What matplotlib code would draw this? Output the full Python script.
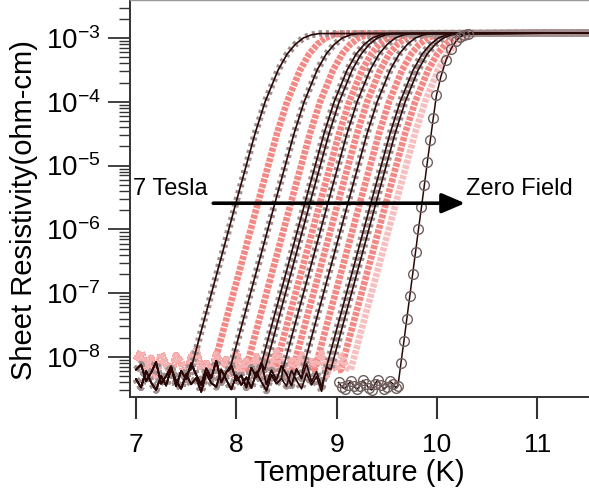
import numpy as np
import matplotlib
matplotlib.use("Agg")
import matplotlib.pyplot as plt
from matplotlib.ticker import LogLocator, NullFormatter, NullLocator

plt.rcParams['font.family'] = ['Liberation Sans', 'DejaVu Sans']

levels = [-8.2, -7.5, -6.5, -5.5, -4.5, -4.0, -3.5, -3.25, -3.1, -3.0, -2.95, -2.93]

# temperature (K) of every field curve at those levels, 7 Tesla first
curve_t = [
    [7.546, 7.666, 7.839, 8.011, 8.186, 8.287, 8.417, 8.507, 8.587, 8.667, 8.747, 8.827],
    [7.765, 7.885, 8.058, 8.230, 8.405, 8.506, 8.636, 8.726, 8.806, 8.886, 8.966, 9.046],
    [7.935, 8.055, 8.228, 8.400, 8.575, 8.676, 8.806, 8.896, 8.976, 9.056, 9.136, 9.216],
    [8.094, 8.214, 8.387, 8.559, 8.734, 8.835, 8.965, 9.055, 9.135, 9.215, 9.295, 9.375],
    [8.234, 8.354, 8.527, 8.699, 8.874, 8.975, 9.105, 9.195, 9.275, 9.355, 9.435, 9.515],
    [8.284, 8.404, 8.577, 8.749, 8.924, 9.025, 9.155, 9.245, 9.325, 9.405, 9.485, 9.565],
    [8.384, 8.504, 8.677, 8.849, 9.024, 9.125, 9.255, 9.345, 9.425, 9.505, 9.585, 9.665],
    [8.463, 8.583, 8.756, 8.928, 9.103, 9.204, 9.334, 9.424, 9.504, 9.584, 9.664, 9.744],
    [8.563, 8.683, 8.856, 9.028, 9.203, 9.304, 9.434, 9.524, 9.604, 9.684, 9.764, 9.844],
    [8.663, 8.783, 8.956, 9.128, 9.303, 9.404, 9.534, 9.624, 9.704, 9.784, 9.864, 9.944],
    [8.782, 8.902, 9.075, 9.247, 9.422, 9.523, 9.653, 9.743, 9.823, 9.903, 9.983, 10.063],
    [8.892, 9.012, 9.185, 9.357, 9.532, 9.633, 9.763, 9.853, 9.933, 10.013, 10.093, 10.173],
    [8.942, 9.062, 9.235, 9.407, 9.582, 9.683, 9.813, 9.903, 9.983, 10.063, 10.143, 10.223],
    [9.042, 9.162, 9.335, 9.507, 9.682, 9.783, 9.913, 10.003, 10.083, 10.163, 10.243, 10.323],
    [9.141, 9.261, 9.434, 9.606, 9.781, 9.882, 10.012, 10.102, 10.182, 10.262, 10.342, 10.422],
]
curve_kind = ['black', 'pink', 'black', 'pink', 'black', 'black', 'pink', 'black',
              'pink', 'black', 'pink', 'black', 'black', 'pink', 'light']

# zero field curve (open circles)
zero_levels = [-8.45, -8.1, -7.75, -7.4, -7.05, -6.7, -6.35, -6.0, -5.65, -5.3, -4.95,
               -4.6, -4.25, -3.9, -3.6, -3.35, -3.17, -3.05, -2.98, -2.95, -2.93]
zero_t = [9.612, 9.641, 9.671, 9.700, 9.729, 9.758, 9.787, 9.816, 9.846, 9.875, 9.904,
          9.934, 9.964, 9.995, 10.04, 10.09, 10.14, 10.19, 10.23, 10.27, 10.31]
zero_floor_t = [9.02, 9.05, 9.08, 9.11, 9.14, 9.17, 9.20, 9.23, 9.26, 9.29,
                9.32, 9.35, 9.38, 9.41, 9.44, 9.47, 9.50, 9.53, 9.56, 9.59]
zero_floor_log = [-8.40, -8.47, -8.50, -8.44, -8.38, -8.45, -8.51, -8.46, -8.37, -8.42,
                  -8.49, -8.52, -8.43, -8.36, -8.44, -8.50, -8.47, -8.38, -8.42, -8.48]

# normal state plateau
plateau_log = -2.92
t_end = 11.6

# noise floor below the transitions (log10 values)
floor_t = [7.00, 7.05, 7.10, 7.15, 7.20, 7.25, 7.30, 7.35, 7.40, 7.45,
           7.50, 7.55, 7.60, 7.65, 7.70, 7.75, 7.80, 7.85, 7.90, 7.95,
           8.00, 8.05, 8.10, 8.15, 8.20, 8.25, 8.30, 8.35, 8.40, 8.45,
           8.50, 8.55, 8.60, 8.65, 8.70, 8.75, 8.80, 8.85, 8.90, 8.95,
           9.00, 9.05, 9.10, 9.15, 9.20, 9.25, 9.30, 9.35, 9.40, 9.45,
           9.50, 9.55, 9.60]
noise_pink = [-8.05, -7.92, -8.18, -8.02, -8.30, -7.95, -8.12, -8.25, -7.98, -8.08,
              -8.35, -8.00, -7.90, -8.20, -8.10, -8.28, -7.96, -8.14, -8.04, -8.32,
              -7.93, -8.22, -8.06, -8.16, -7.99, -8.27, -8.03, -8.19, -7.91, -8.11,
              -8.34, -8.01, -8.15, -7.97, -8.24, -8.07, -8.13, -7.94, -8.29, -8.05,
              -8.21, -7.98, -8.17, -8.09, -8.31, -8.00, -8.12, -8.26, -7.95, -8.18,
              -8.08, -8.23, -8.02]
noise_dark = [-8.35, -8.48, -8.22, -8.40, -8.52, -8.30, -8.45, -8.18, -8.38, -8.50,
              -8.27, -8.43, -8.33, -8.55, -8.25, -8.41, -8.47, -8.20, -8.36, -8.51,
              -8.29, -8.44, -8.32, -8.49, -8.24, -8.39, -8.53, -8.28, -8.42, -8.34,
              -8.46, -8.21, -8.37, -8.50, -8.26, -8.44, -8.31, -8.54, -8.23, -8.40,
              -8.48, -8.30, -8.45, -8.19, -8.38, -8.52, -8.27, -8.43, -8.35, -8.49,
              -8.25, -8.41, -8.33]
noise_mid = [-8.20, -8.12, -8.38, -8.25, -8.08, -8.42, -8.30, -8.15, -8.46, -8.22,
             -8.35, -8.10, -8.28, -8.44, -8.18, -8.33, -8.06, -8.40, -8.24, -8.13,
             -8.37, -8.29, -8.48, -8.17, -8.32, -8.09, -8.43, -8.21, -8.36, -8.14,
             -8.27, -8.45, -8.19, -8.34, -8.11, -8.39, -8.23, -8.47, -8.16, -8.31,
             -8.07, -8.41, -8.26, -8.35, -8.12, -8.44, -8.20, -8.30, -8.15, -8.38,
             -8.24, -8.42, -8.18]

y_ticks = [1e-8, 1e-7, 1e-6, 1e-5, 1e-4, 1e-3]
x_ticks = [7, 8, 9, 10, 11]

fig = plt.figure(figsize=(5.89, 4.97), dpi=100)
ax = fig.add_axes([130 / 589, 100 / 497, 459 / 589, 397 / 497])
ax.set_yscale('log')

dark_toggle = 0
for ts, kind in zip(curve_t, curve_kind):
    if kind == 'black':
        noise = noise_dark if dark_toggle % 2 == 0 else noise_mid
        dark_toggle += 1
    else:
        noise = noise_pink
    fl = [(t, n) for t, n in zip(floor_t, noise) if t < ts[0]]
    x = [p[0] for p in fl] + ts + [t_end]
    y = 10 ** np.array([p[1] for p in fl] + levels + [plateau_log])
    if kind == 'black':
        ax.plot(x, y, color='#a09090', lw=5.0, ls=(0, (0.45, 0.55)), zorder=3)
        ax.plot(x, y, color='#2a0808', lw=1.2, zorder=4)
    elif kind == 'pink':
        ax.plot(x, y, color='#f4827e', lw=4.8, ls=(0, (0.6, 0.2)), alpha=0.95, zorder=2)
    else:
        ax.plot(x, y, color='#f7b9b9', lw=4.8, ls=(0, (0.6, 0.2)), alpha=0.9, zorder=2)

zx = zero_floor_t + zero_t + [t_end]
zy = 10 ** np.array(zero_floor_log + zero_levels + [plateau_log])
ax.plot(zx, zy, color='#2a0808', lw=1.1, zorder=5)
ax.plot(zero_floor_t + zero_t, 10 ** np.array(zero_floor_log + zero_levels), ls='none',
        marker='o', ms=7, mfc='none', mec='#6f5f5f', mew=1.0, zorder=5)

# arrow and labels
ax.annotate('', xy=(10.28, 2.57e-6), xytext=(7.77, 2.57e-6),
            arrowprops=dict(arrowstyle='-|>,head_length=1.4,head_width=0.6',
                            color='black', lw=2.6, shrinkA=0, shrinkB=0), zorder=6)
ax.text(6.97, 3.4e-6, '7 Tesla', fontsize=17, va='baseline', ha='left', zorder=6)
ax.text(10.29, 3.4e-6, 'Zero Field', fontsize=17, va='baseline', ha='left', zorder=6)

ax.set_xlim(6.94, 11.516)
ax.set_ylim(2.35e-9, 3.95e-3)
ax.set_xticks(x_ticks)
ax.xaxis.set_minor_locator(NullLocator())
ax.set_yticks(y_ticks)
ax.yaxis.set_minor_locator(LogLocator(base=10, subs=np.arange(2, 10), numticks=20))
ax.yaxis.set_minor_formatter(NullFormatter())

ax.tick_params(axis='y', which='major', length=16, width=1.3, labelsize=20, pad=5, color='#333333')
ax.tick_params(axis='y', which='minor', length=8, width=1.0, color='#333333')
ax.tick_params(axis='x', which='major', length=16, width=1.5, labelsize=19, pad=10, color='#333333')

for side in ['left', 'bottom']:
    ax.spines[side].set_linewidth(1.4)
    ax.spines[side].set_color('#333333')
ax.spines['top'].set_linewidth(1.0)
ax.spines['top'].set_color('#999999')
ax.spines['right'].set_visible(False)

ax.set_xlabel('Temperature (K)', fontsize=21)
ax.set_ylabel('Sheet Resistivity(ohm-cm)', fontsize=21)
ax.xaxis.set_label_coords(0.5, -0.155)
ax.yaxis.set_label_coords(-0.2, 0.47)

fig.savefig('out.png', dpi=100)
